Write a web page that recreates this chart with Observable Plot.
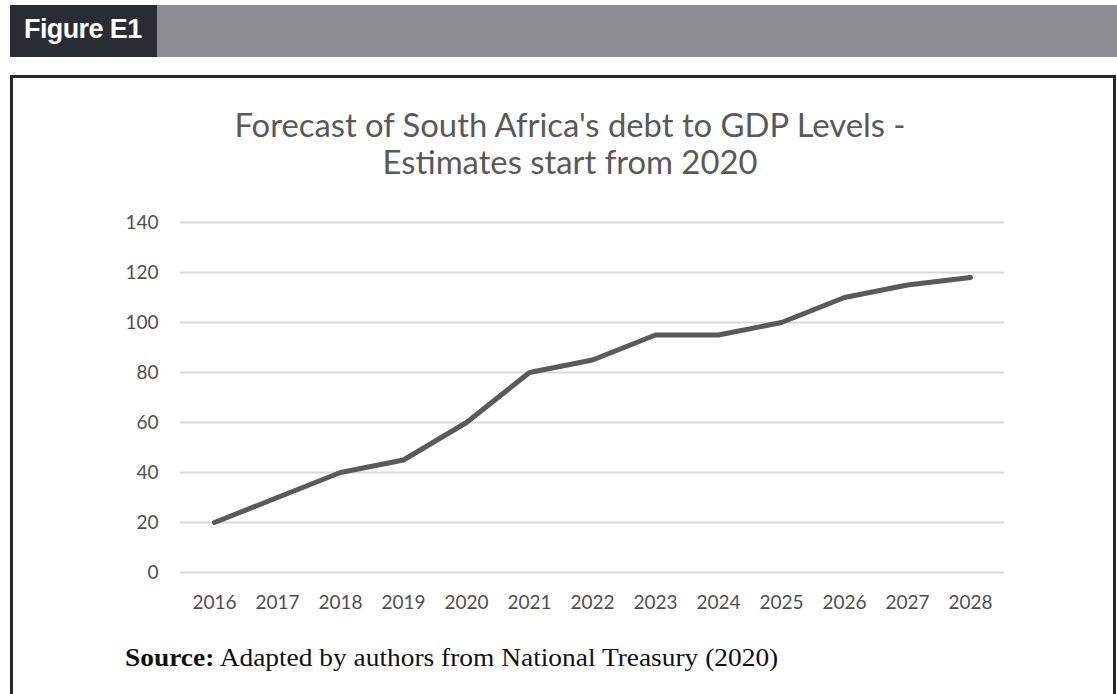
<!DOCTYPE html>
<html>
<head>
<meta charset="utf-8">
<script src="https://cdn.jsdelivr.net/npm/d3@7"></script>
<script src="https://cdn.jsdelivr.net/npm/@observablehq/plot@0.6"></script>
<style>
  html, body { margin: 0; padding: 0; background: #fff; width: 1117px; height: 694px; overflow: hidden; position: relative; }
  #hdr-dark { position: absolute; left: 10px; top: 5px; width: 147px; height: 52px; background: #2a2c33; }
  #hdr-grey { position: absolute; left: 157px; top: 5px; width: 960px; height: 52px; background: #8e8f92; }
  #hdr-text { position: absolute; left: 24px; top: 16px; font: bold 27px "Liberation Sans", Arial, sans-serif; line-height: 27px; color: #fff; letter-spacing: -0.6px; }
  #frame { position: absolute; left: 10px; top: 75px; width: 1106px; height: 640px; border: 3px solid #26272b; box-sizing: border-box; }
  #title { position: absolute; left: 120px; width: 900px; top: 106px; text-align: center; font: 32.8px Lato, "Open Sans", sans-serif; color: #595959; line-height: 37px; }
  #chart { position: absolute; left: 0; top: 190px; }
  #source { position: absolute; left: 125px; top: 644px; font: 25px "Liberation Serif", "Times New Roman", serif; color: #111; white-space: nowrap; transform-origin: 0 0; transform: scaleX(1.096); }
</style>
</head>
<body>
<div id="hdr-dark"></div>
<div id="hdr-grey"></div>
<div id="hdr-text">Figure E1</div>
<div id="frame"></div>
<div id="title">Forecast of South Africa's debt to GDP Levels -<br>Estimates start from 2020</div>
<div id="chart"></div>
<div id="source"><b>Source:</b> Adapted by authors from National Treasury (2020)</div>
<script>
const years = ["2016","2017","2018","2019","2020","2021","2022","2023","2024","2025","2026","2027","2028"];
const debtToGdp = [20, 30, 40, 45, 60, 80, 85, 95, 95, 100, 110, 115, 118];
const yTicks = [0, 20, 40, 60, 80, 100, 120, 140];

const data = years.map((y, i) => ({year: y, value: debtToGdp[i]}));

const chart = Plot.plot({
  width: 1117,
  height: 440,
  marginLeft: 180,
  marginRight: 113,
  marginTop: 32,
  marginBottom: 58,
  style: {fontFamily: "Lato, 'Open Sans', sans-serif", fontSize: "19px", color: "#4f4f4f", background: "transparent"},
  x: {type: "point", domain: years, padding: 0.5, label: null},
  y: {domain: [0, 140], label: null},
  marks: [
    Plot.ruleY(yTicks, {stroke: "#d9d9d9", strokeWidth: 2}),
    Plot.axisY({ticks: yTicks, tickSize: 0, tickPadding: 22, label: null, fill: "#4f4f4f"}),
    Plot.axisX({tickSize: 0, tickPadding: 23, label: null, fill: "#4f4f4f"}),
    Plot.line(data, {x: "year", y: "value", stroke: "#5a5a5a", strokeWidth: 5, strokeLinejoin: "round", strokeLinecap: "round"})
  ]
});
document.getElementById("chart").appendChild(chart);
</script>
</body>
</html>
